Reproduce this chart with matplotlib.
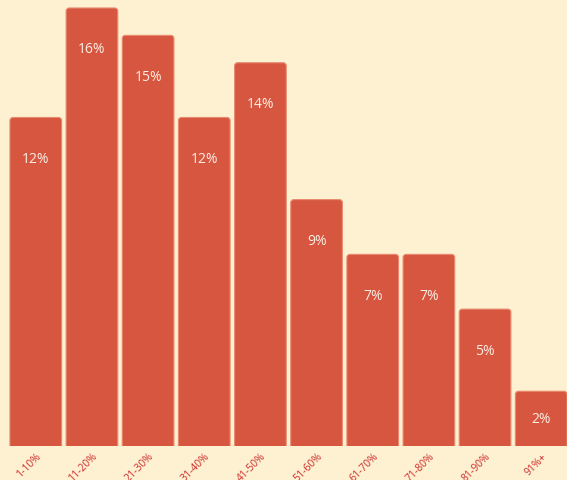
import matplotlib.pyplot as plt
from matplotlib.patches import FancyBboxPatch
from matplotlib.transforms import ScaledTranslation

categories = ['1-10%', '11-20%', '21-30%', '31-40%', '41-50%',
              '51-60%', '61-70%', '71-80%', '81-90%', '91%+']
values = [12, 16, 15, 12, 14, 9, 7, 7, 5, 2]
labels = ['12%', '16%', '15%', '12%', '14%', '9%', '7%', '7%', '5%', '2%']

bg = '#fef1d1'
bar_col = '#d65640'

fig = plt.figure(figsize=(5.67, 4.81), dpi=100)
fig.patch.set_facecolor(bg)
ax = fig.add_axes([0, 34 / 481, 1, 447 / 481])
ax.set_facecolor(bg)

top = max(values) * 448 / 439
ax.set_xlim(-0.637, 9.459)
ax.set_ylim(0, top)

w = 0.92
# px per data unit, used to round the corners
px_x = 567 / (9.459 + 0.637)
px_y = 447 / top
for i, v in enumerate(values):
    p = FancyBboxPatch((i - w / 2, -1), w, v + 1,
                       boxstyle='round,pad=0,rounding_size=0.055',
                       mutation_aspect=px_x / px_y,
                       facecolor=bar_col, edgecolor='#e88a70', linewidth=0.8)
    ax.add_patch(p)
    y = max(v - 41 / px_y, v / 2)
    ax.text(i, y, labels[i], ha='center', va='center', color='#fdeee4',
            fontsize=10, family='Open Sans')

ax.set_xticks(range(len(categories)))
ax.set_xticklabels(categories, rotation=45, ha='right', va='top',
                   rotation_mode='anchor',
                   color='#cc2b2b', fontsize=7.5, family='Open Sans')
shift = ScaledTranslation(11 / 100, 0, fig.dpi_scale_trans)
for t in ax.get_xticklabels():
    t.set_transform(t.get_transform() + shift)
ax.tick_params(axis='x', length=0, pad=3)
ax.set_yticks([])
for s in ax.spines.values():
    s.set_visible(False)

fig.savefig('out.png', dpi=100, facecolor=bg)
